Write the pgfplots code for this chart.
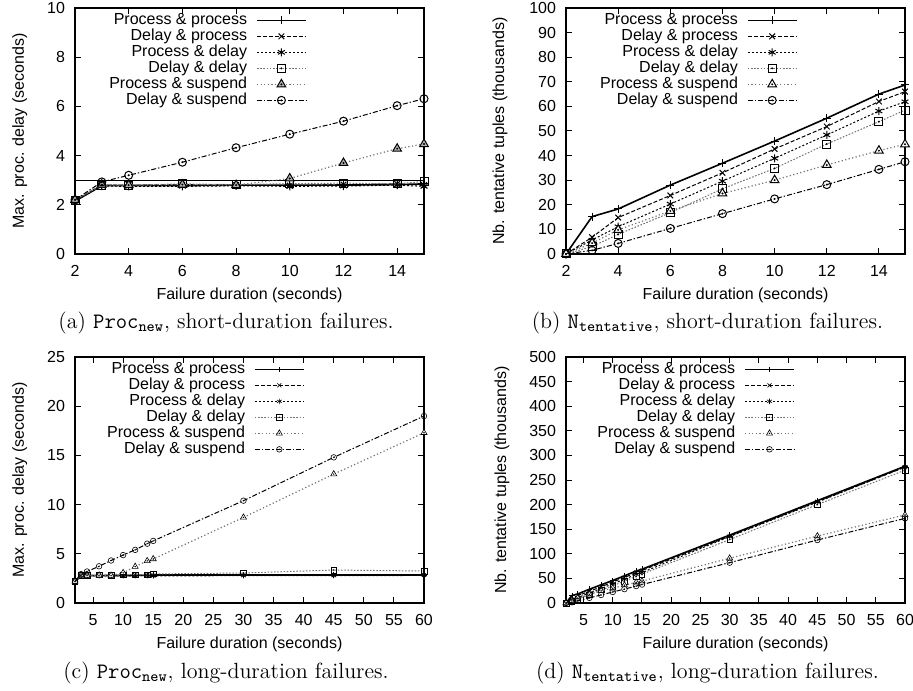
\documentclass[border=0pt]{standalone}
\usepackage{fontspec}
\usepackage{pgfplots}
\pgfplotsset{compat=1.18}
\newfontfamily\arialf{Liberation Sans}
\newcommand\af{\arialf\fontsize{8}{9.6}\selectfont}

\pgfdeclareplotmark{ocd}{%
 \pgfpathcircle{\pgfpointorigin}{\pgfplotmarksize}\pgfusepathqstroke
 \pgfpathcircle{\pgfpointorigin}{0.2pt}\pgfusepathqstroke}
\pgfdeclareplotmark{sqd}{%
 \pgfpathrectangle{\pgfpoint{-\pgfplotmarksize}{-\pgfplotmarksize}}{\pgfpoint{2\pgfplotmarksize}{2\pgfplotmarksize}}\pgfusepathqstroke
 \pgfpathcircle{\pgfpointorigin}{0.2pt}\pgfusepathqstroke}
\pgfdeclareplotmark{trid}{%
 \pgfpathmoveto{\pgfqpointpolar{90}{1.25\pgfplotmarksize}}%
 \pgfpathlineto{\pgfqpointpolar{-30}{1.25\pgfplotmarksize}}%
 \pgfpathlineto{\pgfqpointpolar{210}{1.25\pgfplotmarksize}}%
 \pgfpathclose\pgfusepathqfillstroke
 \pgfpathcircle{\pgfpointorigin}{0.2pt}\pgfusepathqstroke}

\pgfplotsset{
  mlw/.initial=0.5pt,
  tfill/.initial=white,
  legend image code/.code={\draw[mark repeat=2,mark phase=2,#1] plot coordinates {(0cm,0cm) (0.43cm,0cm) (0.86cm,0cm)};},
  sPP/.style={black, line width=0.8pt, mark=+, mark options={solid, line width=\pgfkeysvalueof{/pgfplots/mlw}}},
  sDP/.style={black, line width=0.5pt, dash pattern=on 2pt off 1pt, mark=x, mark options={solid, line width=\pgfkeysvalueof{/pgfplots/mlw}}},
  sPD/.style={black, line width=0.5pt, dash pattern=on 1pt off 1pt, mark=asterisk, mark options={solid, line width=\pgfkeysvalueof{/pgfplots/mlw}}},
  sDD/.style={black!55, line width=0.5pt, dash pattern=on 0.8pt off 0.8pt, mark=sqd, mark options={solid, black, fill=white, line width=\pgfkeysvalueof{/pgfplots/mlw}}},
  sPS/.style={black!55, line width=0.6pt, dash pattern=on 0.6pt off 1.2pt, mark=trid, mark options={solid, black, fill=\pgfkeysvalueof{/pgfplots/tfill}, line width=\pgfkeysvalueof{/pgfplots/mlw}}},
  sDS/.style={black, line width=0.5pt, dash pattern=on 2.5pt off 1pt on 0.7pt off 1pt, mark=ocd, mark options={solid, line width=\pgfkeysvalueof{/pgfplots/mlw}}},
  base/.style={
    scale only axis, height=123pt,
    axis line style={line width=0.8pt},
    tick style={black, line width=0.5pt}, major tick length=3pt,
    tick label style={font=\af}, label style={font=\af},
    /pgf/number format/assume math mode=true,
    xlabel={Failure duration (seconds)},
    xlabel style={at={(axis description cs:0.5,-0.168)}, anchor=center},
    xticklabel style={yshift=-2pt}, yticklabel style={xshift=-1.5pt},
    legend plot pos=right, legend cell align=right,
    legend style={draw=none, fill=none, font=\af, anchor=north east, inner sep=0pt,
      column sep=4pt, nodes={inner sep=0.5pt, text height=5.5pt, text depth=1.5pt}},
    clip mode=individual,
    xmin=2,
  },
}

\begin{document}
\begin{tikzpicture}
\path[use as bounding box] (0,0) rectangle (456.5pt,345pt);

% (a)
\begin{axis}[base, at={(37.5pt,218pt)}, anchor=south west, width=174.5pt,
  xmax=15, ymin=0, ymax=10, xtick={2,4,...,14}, ytick={0,2,...,10},
  ylabel={Max. proc. delay (seconds)},
  ylabel style={at={(axis description cs:-0.158,0.5)}, anchor=center},
  legend style={at={(axis description cs:0.665,0.984)}},
  mark size=2pt, tfill=black!30]
\addplot[black, line width=0.5pt, forget plot] coordinates {(2,3) (15,3)};
\addplot[sPP] coordinates {(2,2.15) (3,2.78) (4,2.78) (6,2.78) (8,2.80) (10,2.80) (12,2.80) (14,2.82) (15,2.85)};
\addplot[sDP] coordinates {(2,2.18) (3,2.80) (4,2.80) (6,2.82) (8,2.80) (10,2.78) (12,2.82) (14,2.85) (15,2.80)};
\addplot[sPD] coordinates {(2,2.15) (3,2.76) (4,2.75) (6,2.75) (8,2.77) (10,2.75) (12,2.76) (14,2.80) (15,2.75)};
\addplot[sDD] coordinates {(2,2.18) (3,2.80) (4,2.80) (6,2.85) (8,2.82) (10,2.86) (12,2.88) (14,2.85) (15,2.95)};
\addplot[sPS] coordinates {(2,2.20) (3,2.82) (4,2.80) (6,2.82) (8,2.80) (10,3.07) (12,3.70) (14,4.28) (15,4.47)};
\addplot[sDS] coordinates {(2,2.20) (3,2.93) (4,3.20) (6,3.73) (8,4.32) (10,4.87) (12,5.40) (14,6.03) (15,6.31)};
\legend{Process \& process, Delay \& process, Process \& delay, Delay \& delay, Process \& suspend, Delay \& suspend}
\end{axis}

% (b)
\begin{axis}[base, at={(283pt,218pt)}, anchor=south west, width=169.5pt,
  xmax=15, ymin=0, ymax=100, xtick={2,4,...,14}, ytick={0,10,...,100},
  ylabel={Nb. tentative tuples (thousands)},
  ylabel style={at={(axis description cs:-0.195,0.5)}, anchor=center},
  legend style={at={(axis description cs:0.684,0.984)}},
  mark size=2pt]
\addplot[sPP] coordinates {(2,0) (3,15.2) (4,18.3) (6,28.0) (8,36.9) (10,45.9) (12,55.2) (14,65.0) (15,68.7)};
\addplot[sDP] coordinates {(2,0) (3,6.8) (4,14.8) (6,23.8) (8,33.0) (10,42.7) (12,51.8) (14,62.0) (15,66.0)};
\addplot[sPD] coordinates {(2,0) (3,5.7) (4,11.1) (6,20.3) (8,29.6) (10,38.9) (12,48.4) (14,58.1) (15,61.9)};
\addplot[sDD] coordinates {(2,0) (3,3.0) (4,8.0) (6,16.8) (8,26.5) (10,34.8) (12,44.7) (14,53.8) (15,58.5)};
\addplot[sPS] coordinates {(2,0) (3,4.4) (4,9.8) (6,17.5) (8,24.6) (10,30.0) (12,36.2) (14,42.0) (15,44.6)};
\addplot[sDS] coordinates {(2,0) (3,1.5) (4,4.3) (6,10.4) (8,16.4) (10,22.4) (12,28.2) (14,34.4) (15,37.5)};
\legend{Process \& process, Delay \& process, Process \& delay, Delay \& delay, Process \& suspend, Delay \& suspend}
\end{axis}

% (c)
\begin{axis}[base, at={(37.5pt,43.5pt)}, anchor=south west, width=174.5pt,
  xmax=60, ymin=0, ymax=25, xtick={5,10,...,60}, ytick={0,5,...,25},
  ylabel={Max. proc. delay (seconds)},
  ylabel style={at={(axis description cs:-0.158,0.5)}, anchor=center},
  legend style={at={(axis description cs:0.659,0.984)}},
  mark size=1.4pt, mlw=0.3pt]
\addplot[sPP] coordinates {(2,2.15) (3,2.78) (4,2.78) (6,2.78) (8,2.80) (10,2.80) (12,2.80) (14,2.82) (15,2.85) (30,2.85) (45,2.85) (60,2.85)};
\addplot[sDP] coordinates {(2,2.18) (3,2.80) (4,2.80) (6,2.82) (8,2.80) (10,2.78) (12,2.82) (14,2.85) (15,2.80) (30,2.85) (45,2.85) (60,2.85)};
\addplot[sPD] coordinates {(2,2.15) (3,2.76) (4,2.75) (6,2.75) (8,2.77) (10,2.75) (12,2.76) (14,2.80) (15,2.75) (30,2.78) (45,2.78) (60,2.80)};
\addplot[sDD] coordinates {(2,2.18) (3,2.80) (4,2.80) (6,2.85) (8,2.82) (10,2.86) (12,2.88) (14,2.85) (15,2.95) (30,3.05) (45,3.35) (60,3.25)};
\addplot[sPS] coordinates {(2,2.20) (3,2.82) (4,2.80) (6,2.82) (8,2.80) (10,3.07) (12,3.70) (14,4.28) (15,4.47) (30,8.7) (45,13.1) (60,17.3)};
\addplot[sDS] coordinates {(2,2.20) (3,2.93) (4,3.20) (6,3.73) (8,4.32) (10,4.87) (12,5.40) (14,6.03) (15,6.31) (30,10.4) (45,14.8) (60,19.0)};
\legend{Process \& process, Delay \& process, Process \& delay, Delay \& delay, Process \& suspend, Delay \& suspend}
\end{axis}

% (d)
\begin{axis}[base, at={(283pt,43.5pt)}, anchor=south west, width=169.5pt,
  xmax=60, ymin=0, ymax=500, xtick={5,10,...,60}, ytick={0,50,...,500},
  ylabel={Nb. tentative tuples (thousands)},
  ylabel style={at={(axis description cs:-0.189,0.5)}, anchor=center},
  legend style={at={(axis description cs:0.676,0.984)}},
  mark size=1.4pt, mlw=0.3pt]
\addplot[sPP] coordinates {(2,0) (3,15.2) (4,18.3) (6,28.0) (8,36.9) (10,45.9) (12,55.2) (14,65.0) (15,68.7) (30,138) (45,208) (60,278)};
\addplot[sDP] coordinates {(2,0) (3,6.8) (4,14.8) (6,23.8) (8,33.0) (10,42.7) (12,51.8) (14,62.0) (15,66.0) (30,136) (45,206) (60,276)};
\addplot[sPD] coordinates {(2,0) (3,5.7) (4,11.1) (6,20.3) (8,29.6) (10,38.9) (12,48.4) (14,58.1) (15,61.9) (30,135) (45,205) (60,277)};
\addplot[sDD] coordinates {(2,0) (3,3.0) (4,8.0) (6,16.8) (8,26.5) (10,34.8) (12,44.7) (14,53.8) (15,58.5) (30,129) (45,200) (60,270)};
\addplot[sPS] coordinates {(2,0) (3,4.4) (4,9.8) (6,17.5) (8,24.6) (10,30.0) (12,36.2) (14,42.0) (15,44.6) (30,91) (45,136) (60,179)};
\addplot[sDS] coordinates {(2,0) (3,1.5) (4,4.3) (6,10.4) (8,16.4) (10,22.4) (12,28.2) (14,34.4) (15,37.5) (30,82) (45,128) (60,172)};
\legend{Process \& process, Delay \& process, Process \& delay, Delay \& delay, Process \& suspend, Delay \& suspend}
\end{axis}

\node[font=\fontsize{11}{13}\selectfont] at (113pt,183.5pt) {(a) \texttt{Proc}$_{\mathtt{new}}$, short-duration failures.};
\node[font=\fontsize{11}{13}\selectfont] at (353.7pt,183.5pt) {(b) \texttt{N}$_{\mathtt{tentative}}$, short-duration failures.};
\node[font=\fontsize{11}{13}\selectfont] at (113pt,8.5pt) {(c) \texttt{Proc}$_{\mathtt{new}}$, long-duration failures.};
\node[font=\fontsize{11}{13}\selectfont] at (353.7pt,8.5pt) {(d) \texttt{N}$_{\mathtt{tentative}}$, long-duration failures.};
\end{tikzpicture}
\end{document}
